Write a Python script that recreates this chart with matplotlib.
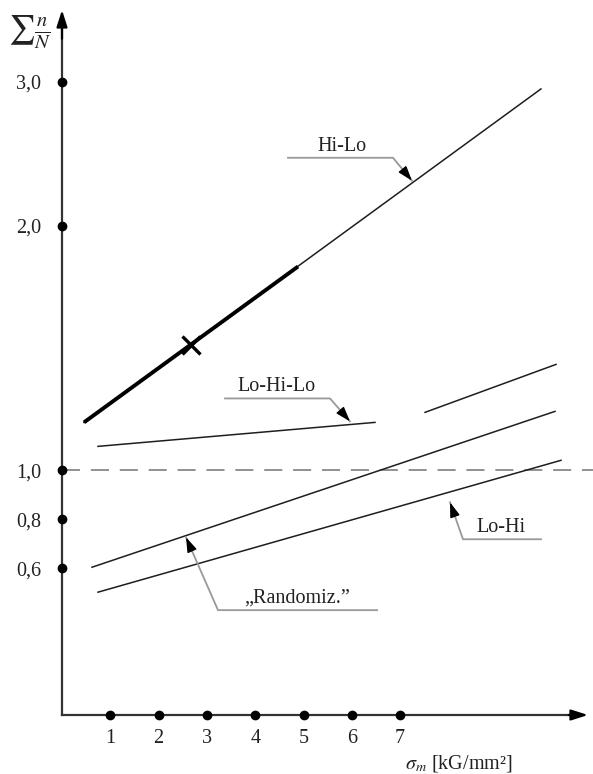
import numpy as np
import matplotlib
matplotlib.use("Agg")
import matplotlib.pyplot as plt

plt.rcParams['font.family'] = ['Liberation Serif', 'DejaVu Serif']
plt.rcParams['mathtext.fontset'] = 'stix'

# ---- data ----
x_ticks = [1, 2, 3, 4, 5, 6, 7]
y_ticks = [0.6, 0.8, 1.0, 2.0, 3.0]
y_tick_labels = ["0,6", "0,8", "1,0", "2,0", "3,0"]

hilo_x = [0.455, 9.917]
hilo_y = [1.196, 2.951]
hilo_thick_x = [0.455, 4.886]
hilo_thick_y = [1.196, 1.833]
hilo_mark = (2.671, 1.514)

lohilo1_x = [0.745, 6.48]
lohilo1_y = [1.098, 1.196]
lohilo2_x = [7.516, 10.228]
lohilo2_y = [1.237, 1.433]

rand_x = [0.621, 10.207]
rand_y = [0.604, 1.241]

lohi_x = [0.745, 10.331]
lohi_y = [0.502, 1.041]

ref_level = 1.0

# ---- piecewise y scale (compressed above 2.0) ----
K = 144.0 / 245.0
def fwd(y):
    y = np.asarray(y, dtype=float)
    return np.where(y <= 2, y, 2 + (y - 2) * K)
def inv(u):
    u = np.asarray(u, dtype=float)
    return np.where(u <= 2, u, 2 + (u - 2) / K)

W, H = 593, 774
fig = plt.figure(figsize=(W / 100, H / 100), dpi=100)
x0px, y0px = 62, 715
ax = fig.add_axes([x0px / W, (H - y0px) / H, (W - x0px) / W, y0px / H])
ax.set_yscale('function', functions=(fwd, inv))
ax.set_xlim(0, (W - x0px) / 48.3)
ax.set_ylim(0, 2 + 226 / 144.0)
for s in ax.spines.values():
    s.set_visible(False)

ax.set_xticks(x_ticks)
ax.set_xticklabels([str(v) for v in x_ticks])
ax.set_yticks(y_ticks)
ax.set_yticklabels(y_tick_labels)
ax.yaxis.set_minor_locator(matplotlib.ticker.NullLocator())
ax.tick_params(axis='both', length=0, labelsize=14.5, colors='#222222')
ax.tick_params(axis='y', pad=15)
ax.tick_params(axis='x', pad=10)

axis_col = '#333333'
# axes with arrows
xend = (588 - x0px) / 48.3
ytop = 2 + (226 - 10) / 144.0
ax.plot([0, xend - 0.2], [0, 0], color=axis_col, lw=1.6, clip_on=False, zorder=3)
ax.plot([0, 0], [0, ytop - 0.08], color=axis_col, lw=1.6, clip_on=False, zorder=3)
ax.annotate('', xy=(xend, 0), xytext=(xend - 0.4, 0),
            arrowprops=dict(arrowstyle='-|>,head_length=1.0,head_width=0.32',
                            color='black', lw=1.6, shrinkA=0, shrinkB=0),
            annotation_clip=False, zorder=4)
ax.annotate('', xy=(0, ytop), xytext=(0, ytop - 0.2),
            arrowprops=dict(arrowstyle='-|>,head_length=1.0,head_width=0.32',
                            color='black', lw=1.6, shrinkA=0, shrinkB=0),
            annotation_clip=False, zorder=4)

# tick dots
ax.plot(x_ticks, [0] * len(x_ticks), 'o', color='black', ms=6, clip_on=False, zorder=5)
ax.plot([0] * len(y_ticks), y_ticks, 'o', color='black', ms=6, clip_on=False, zorder=5)

# reference dashed line
ax.plot([0, 11], [ref_level, ref_level], color='#888888', lw=1.3,
        dashes=(10, 6), zorder=2)

line_col = '#1e1e1e'
ax.plot(hilo_x, hilo_y, color=line_col, lw=1.1)
ax.plot(hilo_thick_x, hilo_thick_y, color='black', lw=2.8, solid_capstyle='butt')
ax.plot([hilo_mark[0]], [hilo_mark[1]], marker='x', color='black', ms=13, mew=2.4)
ax.plot(lohilo1_x, lohilo1_y, color=line_col, lw=1.1)
ax.plot(lohilo2_x, lohilo2_y, color=line_col, lw=1.1)
ax.plot(rand_x, rand_y, color=line_col, lw=1.1)
ax.plot(lohi_x, lohi_y, color=line_col, lw=1.1)

# leader lines with labels
lead_col = '#999999'
def px2x(px):
    return (px - x0px) / 48.3
def py2y(py):
    v = (y0px - py) / 245.0
    if v > 2:
        v = 2 + (226 - py) / 144.0
    return v

def leader(points_px, label, label_px):
    xs = [px2x(p[0]) for p in points_px]
    ys = [py2y(p[1]) for p in points_px]
    ax.plot(xs, ys, color=lead_col, lw=1.3, zorder=3)
    tip = points_px[-1]
    prev = points_px[-2]
    d = np.array(tip, float) - np.array(prev, float)
    d /= np.hypot(*d)
    start = np.array(tip, float) - d * 14
    ax.annotate('', xy=(px2x(tip[0]), py2y(tip[1])),
                xytext=(px2x(start[0]), py2y(start[1])),
                arrowprops=dict(arrowstyle='-|>,head_length=0.9,head_width=0.3',
                                color='black', lw=1.0, shrinkA=0, shrinkB=0),
                zorder=4)
    ax.text(px2x(label_px[0]), py2y(label_px[1]), label, ha='center', va='center',
            fontsize=14.5, color='#222222')

leader([(288, 158), (393, 158), (412, 181)], 'Hi-Lo', (342, 147))
leader([(225, 398), (330, 398), (350, 421)], 'Lo-Hi-Lo', (277, 386))
leader([(541, 539), (463, 539), (450, 502)], 'Lo-Hi', (501, 527))
leader([(377, 610), (218, 610), (186, 537)], '\u201eRandomiz.\u201d', (297, 598))

# axis labels
fig.text(8 / W, 1 - 32 / H, r'$\sum\frac{n}{N}$', fontsize=21, ha='left', va='center',
         color='#222222')
fig.text(459 / W, 1 - 763 / H, r'$\sigma_m$ [kG/mm²]', fontsize=14.5, ha='center',
         va='center', color='#222222')

fig.savefig('out.png', dpi=100)
